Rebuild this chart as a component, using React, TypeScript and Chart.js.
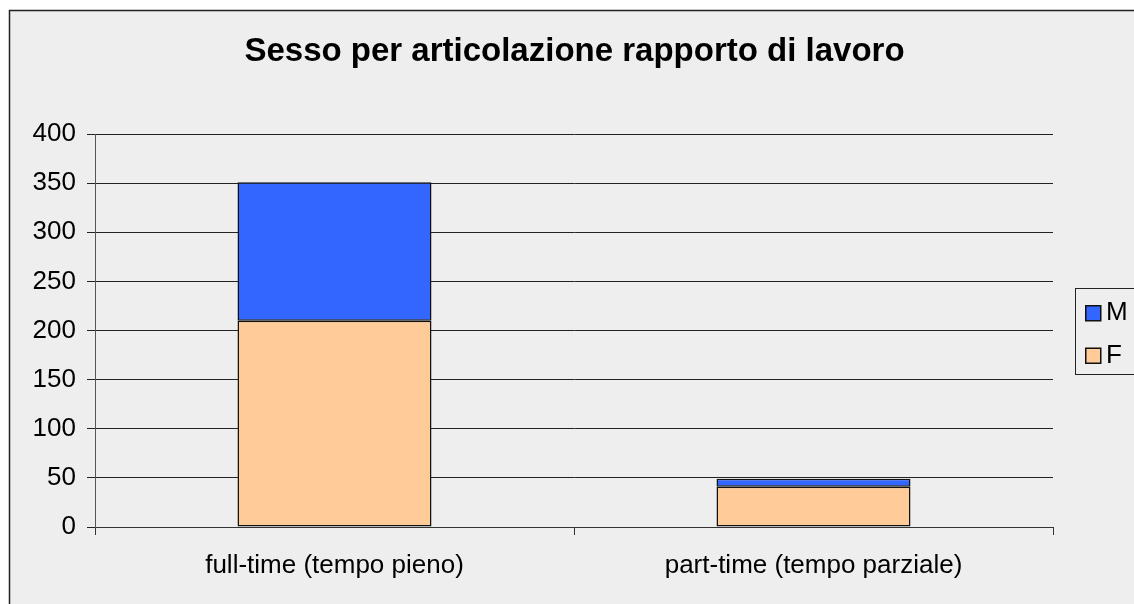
import React, { useEffect, useRef } from 'react';
import { Chart, registerables } from 'chart.js';

Chart.register(...registerables);

const titleText = 'Sesso per articolazione rapporto di lavoro';
const categories = ['full-time (tempo pieno)', 'part-time (tempo parziale)'];
const femaleValues = [210, 41];
const maleValues = [141, 8];
const seriesLabels = ['F', 'M'];
const yMin = 0;
const yMax = 400;
const yStep = 50;

const FONT = "'Liberation Sans', Arial, sans-serif";
const BG = '#eeeeee';

const framePlugin = {
  id: 'frame',
  beforeDraw(chart: any) {
    const ctx = chart.ctx;
    ctx.save();
    ctx.fillStyle = '#ffffff';
    ctx.fillRect(0, 0, chart.width, chart.height);
    ctx.fillStyle = BG;
    ctx.fillRect(9, 10, chart.width, chart.height);
    ctx.strokeStyle = '#222';
    ctx.lineWidth = 1.5;
    ctx.strokeRect(9.5, 10.5, chart.width + 20, chart.height + 20);
    ctx.restore();
  },
  afterDraw(chart: any) {
    const ctx = chart.ctx;
    ctx.save();
    // title
    ctx.fillStyle = '#000';
    ctx.font = `bold 33px ${FONT}`;
    ctx.textAlign = 'center';
    ctx.textBaseline = 'alphabetic';
    ctx.fillText(titleText, 574.5, 61);
    // legend (reverse order like the original: M above F)
    ctx.fillStyle = BG;
    ctx.fillRect(1075.5, 288.5, 120, 86);
    ctx.strokeStyle = '#222';
    ctx.lineWidth = 1;
    ctx.strokeRect(1075.5, 288.5, 120, 86);
    const ds = chart.data.datasets.slice().reverse();
    ds.forEach((d: any, i: number) => {
      const y = 305 + i * 42.5;
      ctx.fillStyle = d.backgroundColor;
      ctx.fillRect(1085, y, 16, 16);
      ctx.strokeStyle = '#111';
      ctx.lineWidth = 1.5;
      ctx.strokeRect(1085.75, y + 0.75, 15, 15);
      ctx.fillStyle = '#000';
      ctx.font = `26px ${FONT}`;
      ctx.textAlign = 'left';
      ctx.textBaseline = 'alphabetic';
      ctx.fillText(d.label, 1106, y + 15);
    });
    ctx.restore();
  },
};

export default function App() {
  const ref = useRef<HTMLCanvasElement>(null);

  useEffect(() => {
    if (!ref.current) return;
    const chart = new Chart(ref.current, {
      type: 'bar',
      data: {
        labels: categories,
        datasets: [
          {
            label: seriesLabels[0],
            data: femaleValues,
            backgroundColor: '#FFCC99',
            borderColor: '#111',
            borderWidth: 1.5,
            borderSkipped: false,
            barPercentage: 0.81,
            categoryPercentage: 0.5,
          },
          {
            label: seriesLabels[1],
            data: maleValues,
            backgroundColor: '#3366FF',
            borderColor: '#111',
            borderWidth: 1.5,
            borderSkipped: false,
            barPercentage: 0.81,
            categoryPercentage: 0.5,
          },
        ],
      },
      options: {
        responsive: false,
        animation: false,
        devicePixelRatio: 1,
        layout: { padding: { top: 134, right: 81, left: 0, bottom: 0 } },
        plugins: {
          legend: { display: false },
          title: { display: false },
          tooltip: { enabled: false },
        },
        scales: {
          x: {
            stacked: true,
            afterFit(scale: any) {
              scale.height = 77;
              scale.paddingLeft = 0;
              scale.paddingRight = 0;
            },
            grid: {
              display: true,
              drawOnChartArea: false,
              drawTicks: true,
              tickLength: 8,
              color: '#333',
              offset: true,
            },
            border: { display: true, color: '#333', width: 1 },
            ticks: {
              color: '#000',
              padding: 15,
              font: { family: FONT, size: 26 },
              maxRotation: 0,
            },
          },
          y: {
            stacked: true,
            min: yMin,
            max: yMax,
            afterFit(scale: any) {
              scale.width = 95;
              scale.paddingTop = 0;
              scale.paddingBottom = 0;
            },
            grid: {
              color: '#222',
              tickLength: 8,
            },
            border: { display: true, color: '#555', width: 1 },
            ticks: {
              stepSize: yStep,
              color: '#000',
              padding: 11,
              font: { family: FONT, size: 26 },
            },
          },
        },
      },
      plugins: [framePlugin],
    });
    return () => chart.destroy();
  }, []);

  return (
    <div style={{ position: 'fixed', left: 0, top: 0, width: 1134, height: 604, overflow: 'hidden' }}>
      <canvas ref={ref} width={1134} height={604} style={{ display: 'block', width: 1134, height: 604 }} />
    </div>
  );
}
